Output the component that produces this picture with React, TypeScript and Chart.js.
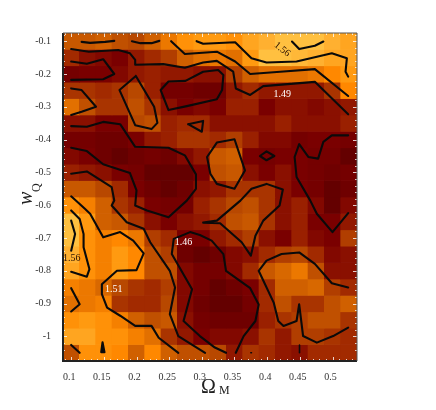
import React, { useEffect, useRef } from "react";
import { Chart, registerables } from "chart.js";

Chart.register(...registerables);

const omegaM = [0.1, 0.125, 0.15, 0.175, 0.2, 0.225, 0.25, 0.275, 0.3, 0.325, 0.35, 0.375, 0.4, 0.425, 0.45, 0.475, 0.5, 0.525];
const wQ = [-0.1, -0.15, -0.2, -0.25, -0.3, -0.35, -0.4, -0.45, -0.5, -0.55, -0.6, -0.65, -0.7, -0.75, -0.8, -0.85, -0.9, -0.95, -1, -1.05];
const xTicks = [0.1, 0.15, 0.2, 0.25, 0.3, 0.35, 0.4, 0.45, 0.5];
const yTicks = [-0.1, -0.2, -0.3, -0.4, -0.5, -0.6, -0.7, -0.8, -0.9, -1];

const chi = [
  [1.51, 1.51, 1.515, 1.505, 1.5, 1.515, 1.53, 1.55, 1.56, 1.56, 1.55, 1.57, 1.58, 1.6, 1.6, 1.6, 1.58, 1.57],
  [1.485, 1.47, 1.465, 1.46, 1.475, 1.485, 1.495, 1.515, 1.525, 1.53, 1.525, 1.56, 1.6, 1.6, 1.59, 1.58, 1.57, 1.57],
  [1.455, 1.46, 1.46, 1.465, 1.475, 1.48, 1.475, 1.475, 1.47, 1.47, 1.495, 1.515, 1.525, 1.525, 1.525, 1.53, 1.54, 1.56],
  [1.49, 1.49, 1.485, 1.49, 1.5, 1.48, 1.455, 1.455, 1.45, 1.45, 1.475, 1.485, 1.475, 1.475, 1.475, 1.475, 1.49, 1.54],
  [1.525, 1.505, 1.49, 1.49, 1.505, 1.49, 1.47, 1.46, 1.465, 1.46, 1.48, 1.48, 1.46, 1.47, 1.47, 1.465, 1.47, 1.475],
  [1.47, 1.47, 1.46, 1.46, 1.5, 1.505, 1.48, 1.485, 1.485, 1.47, 1.47, 1.47, 1.47, 1.48, 1.47, 1.47, 1.47, 1.48],
  [1.455, 1.455, 1.45, 1.45, 1.46, 1.475, 1.48, 1.49, 1.49, 1.485, 1.495, 1.48, 1.465, 1.465, 1.455, 1.46, 1.46, 1.455],
  [1.465, 1.46, 1.45, 1.44, 1.45, 1.455, 1.45, 1.465, 1.475, 1.51, 1.515, 1.46, 1.455, 1.46, 1.46, 1.455, 1.455, 1.44],
  [1.48, 1.475, 1.47, 1.46, 1.455, 1.44, 1.44, 1.44, 1.46, 1.505, 1.51, 1.47, 1.46, 1.47, 1.46, 1.455, 1.45, 1.455],
  [1.51, 1.51, 1.5, 1.485, 1.46, 1.45, 1.44, 1.45, 1.47, 1.475, 1.49, 1.49, 1.49, 1.47, 1.46, 1.455, 1.44, 1.45],
  [1.55, 1.535, 1.515, 1.49, 1.48, 1.46, 1.455, 1.455, 1.48, 1.49, 1.5, 1.505, 1.49, 1.47, 1.48, 1.465, 1.44, 1.465],
  [1.6, 1.56, 1.515, 1.51, 1.49, 1.47, 1.46, 1.47, 1.475, 1.485, 1.505, 1.51, 1.49, 1.47, 1.48, 1.46, 1.46, 1.475],
  [1.6, 1.55, 1.535, 1.54, 1.53, 1.495, 1.485, 1.46, 1.46, 1.475, 1.485, 1.495, 1.47, 1.46, 1.48, 1.465, 1.46, 1.495],
  [1.58, 1.55, 1.535, 1.56, 1.54, 1.505, 1.495, 1.45, 1.44, 1.45, 1.465, 1.47, 1.485, 1.495, 1.5, 1.485, 1.465, 1.47],
  [1.57, 1.55, 1.535, 1.56, 1.54, 1.505, 1.505, 1.465, 1.455, 1.455, 1.465, 1.485, 1.51, 1.52, 1.53, 1.505, 1.47, 1.47],
  [1.535, 1.53, 1.52, 1.5, 1.49, 1.485, 1.495, 1.465, 1.455, 1.44, 1.45, 1.46, 1.485, 1.515, 1.515, 1.52, 1.495, 1.485],
  [1.525, 1.53, 1.535, 1.49, 1.485, 1.485, 1.5, 1.465, 1.45, 1.44, 1.44, 1.455, 1.485, 1.505, 1.49, 1.49, 1.505, 1.515],
  [1.55, 1.56, 1.55, 1.535, 1.515, 1.505, 1.51, 1.47, 1.455, 1.45, 1.45, 1.45, 1.48, 1.49, 1.495, 1.505, 1.505, 1.49],
  [1.57, 1.57, 1.55, 1.55, 1.535, 1.525, 1.49, 1.475, 1.46, 1.465, 1.465, 1.47, 1.49, 1.475, 1.495, 1.495, 1.49, 1.485],
  [1.505, 1.55, 1.55, 1.54, 1.515, 1.54, 1.515, 1.505, 1.505, 1.5, 1.475, 1.49, 1.485, 1.475, 1.47, 1.485, 1.485, 1.485],
];

const ramp: [number, number, number, number][] = [
  [1.44, 100, 0, 0], [1.46, 122, 0, 0], [1.47, 138, 16, 0], [1.48, 154, 32, 0], [1.5, 184, 72, 0],
  [1.52, 216, 104, 0], [1.54, 255, 136, 0], [1.56, 255, 154, 16], [1.58, 255, 176, 48], [1.6, 255, 192, 64],
];

type Pt = [number, number];
const contours: Pt[][] = [
  [[0.116, -0.102], [0.129, -0.105], [0.152, -0.102], [0.166, -0.099]],
  [[0.193, -0.1], [0.206, -0.106], [0.223, -0.106], [0.235, -0.099]],
  [[0.253, -0.1], [0.274, -0.139], [0.323, -0.132], [0.351, -0.162], [0.374, -0.2], [0.42, -0.193], [0.473, -0.185], [0.524, -0.267]],
  [[0.292, -0.1], [0.302, -0.108], [0.351, -0.103], [0.376, -0.152], [0.399, -0.165], [0.445, -0.162], [0.499, -0.137], [0.522, -0.152], [0.52, -0.193], [0.524, -0.208]],
  [[0.438, -0.101], [0.449, -0.124], [0.473, -0.114], [0.486, -0.101]],
  [[0.1, -0.124], [0.127, -0.132], [0.172, -0.127], [0.19, -0.137], [0.198, -0.157], [0.198, -0.172], [0.241, -0.17], [0.274, -0.181], [0.302, -0.165], [0.323, -0.16], [0.348, -0.193], [0.352, -0.244], [0.374, -0.264], [0.394, -0.237], [0.473, -0.224], [0.524, -0.323]],
  [[0.1, -0.162], [0.124, -0.169], [0.149, -0.155], [0.166, -0.2], [0.149, -0.216], [0.1, -0.218]],
  [[0.1, -0.244], [0.116, -0.249], [0.138, -0.3], [0.116, -0.315], [0.1, -0.325]],
  [[0.199, -0.206], [0.174, -0.249], [0.198, -0.356], [0.223, -0.368], [0.232, -0.349], [0.227, -0.3], [0.199, -0.206]],
  [[0.237, -0.249], [0.249, -0.223], [0.275, -0.221], [0.302, -0.193], [0.325, -0.188], [0.333, -0.203], [0.331, -0.249], [0.323, -0.277], [0.277, -0.298], [0.249, -0.31], [0.237, -0.249]],
  [[0.279, -0.353], [0.302, -0.343], [0.3, -0.376], [0.279, -0.353]],
  [[0.1, -0.359], [0.124, -0.361], [0.149, -0.346], [0.175, -0.353], [0.198, -0.422], [0.249, -0.425], [0.274, -0.448], [0.291, -0.506], [0.291, -0.55], [0.277, -0.586], [0.249, -0.637], [0.216, -0.616], [0.198, -0.601], [0.2, -0.555], [0.19, -0.502], [0.149, -0.475], [0.124, -0.435], [0.1, -0.425]],
  [[0.1, -0.504], [0.124, -0.497], [0.162, -0.545], [0.166, -0.586], [0.162, -0.601], [0.185, -0.652], [0.211, -0.672], [0.221, -0.713], [0.251, -0.8], [0.259, -0.851], [0.251, -0.932], [0.264, -0.999], [0.305, -1.05]],
  [[0.1, -0.573], [0.121, -0.611], [0.129, -0.626], [0.149, -0.698], [0.175, -0.682], [0.195, -0.708], [0.211, -0.747], [0.2, -0.798], [0.17, -0.8], [0.147, -0.841], [0.147, -0.871], [0.155, -0.912], [0.175, -0.937], [0.198, -0.968], [0.223, -0.968], [0.234, -1.004], [0.264, -1.05]],
  [[0.1, -0.616], [0.113, -0.642], [0.119, -0.688], [0.119, -0.728], [0.128, -0.795], [0.124, -0.818], [0.1, -0.803]],
  [[0.1, -0.647], [0.106, -0.688], [0.1, -0.739]],
  [[0.1, -0.853], [0.113, -0.902], [0.1, -0.924]],
  [[0.1, -1.026], [0.113, -1.05]],
  [[0.148, -1.018], [0.146, -1.048], [0.151, -1.048], [0.148, -1.018]],
  [[0.352, -1.05], [0.364, -0.999], [0.382, -0.953], [0.387, -0.903], [0.374, -0.853], [0.337, -0.8], [0.333, -0.749], [0.315, -0.708], [0.297, -0.691], [0.282, -0.682], [0.257, -0.703], [0.254, -0.749], [0.285, -0.856], [0.272, -0.953], [0.297, -0.999], [0.32, -1.034], [0.337, -1.05]],
  [[0.302, -0.653], [0.323, -0.647], [0.359, -0.586], [0.376, -0.55], [0.399, -0.535], [0.424, -0.552], [0.419, -0.601], [0.394, -0.647], [0.382, -0.693], [0.375, -0.754], [0.361, -0.713], [0.328, -0.655], [0.302, -0.653]],
  [[0.524, -0.851], [0.499, -0.838], [0.473, -0.779], [0.449, -0.744], [0.422, -0.749], [0.399, -0.769], [0.387, -0.8], [0.41, -0.897], [0.417, -0.953], [0.425, -0.968], [0.445, -0.953], [0.449, -0.902], [0.455, -0.999], [0.476, -1.019], [0.501, -0.999], [0.524, -0.973]],
  [[0.524, -0.387], [0.499, -0.387], [0.486, -0.407], [0.478, -0.458], [0.463, -0.453], [0.449, -0.414], [0.442, -0.453], [0.445, -0.514], [0.466, -0.586], [0.476, -0.626], [0.5, -0.682], [0.524, -0.624]],
  [[0.308, -0.453], [0.323, -0.409], [0.35, -0.399], [0.366, -0.494], [0.35, -0.55], [0.323, -0.535], [0.313, -0.504], [0.308, -0.453]],
  [[0.389, -0.45], [0.399, -0.436], [0.411, -0.45], [0.399, -0.463], [0.389, -0.45]],
  [[0.4495, -1.026], [0.4495, -1.05]],
  [[0.375, -1.05], [0.376, -1.05]],
];
const filledContours = [18];
const thinContours = [25, 26];

const contourLabels: { text: string; x: number; y: number; angle: number; color: string }[] = [
  { text: "1.56", x: 0.423, y: -0.125, angle: 38, color: "#2a1000" },
  { text: "1.49", x: 0.423, y: -0.262, angle: 0, color: "#ffffff" },
  { text: "1.46", x: 0.272, y: -0.712, angle: 0, color: "#ffffff" },
  { text: "1.51", x: 0.165, y: -0.857, angle: 0, color: "#ffffff" },
  { text: "1.56", x: 0.101, y: -0.762, angle: 0, color: "#2a1000" },
];

const cellH = 0.05;

function colorFor(v: number) {
  for (let i = 1; i < ramp.length; i++) {
    if (v <= ramp[i][0]) {
      const a = ramp[i - 1];
      const b = ramp[i];
      const t = Math.max(0, (v - a[0]) / (b[0] - a[0]));
      const c = [1, 2, 3].map((k) => Math.round(a[k] + (b[k] - a[k]) * t));
      return `rgb(${c[0]},${c[1]},${c[2]})`;
    }
  }
  const l = ramp[ramp.length - 1];
  return `rgb(${l[1]},${l[2]},${l[3]})`;
}

const decorate = {
  id: "decorate",
  afterDatasetsDraw(chart: any) {
    const { ctx, scales, chartArea: a } = chart;
    const sx = scales.x;
    const sy = scales.y;
    ctx.save();
    ctx.strokeStyle = "rgba(255,255,255,0.8)";
    ctx.lineWidth = 1;
    const hTick = (v: number, len: number) => {
      const p = Math.round(sx.getPixelForValue(v)) + 0.5;
      ctx.beginPath();
      ctx.moveTo(p, a.top);
      ctx.lineTo(p, a.top + len);
      ctx.moveTo(p, a.bottom);
      ctx.lineTo(p, a.bottom - len);
      ctx.stroke();
    };
    const vTick = (v: number, len: number) => {
      const p = Math.round(sy.getPixelForValue(v)) + 0.5;
      ctx.beginPath();
      ctx.moveTo(a.left, p);
      ctx.lineTo(a.left + len, p);
      ctx.moveTo(a.right, p);
      ctx.lineTo(a.right - len, p);
      ctx.stroke();
    };
    for (let i = 0; i <= 44; i++) {
      const v = 0.09 + i * 0.01;
      hTick(v, Math.round(v * 100) % 5 === 0 ? 4 : 2);
    }
    for (let i = 0; i <= 48; i++) {
      const v = -0.08 - i * 0.02;
      vTick(v, Math.round(v * 100) % 10 === 0 ? 4 : 2);
    }
    ctx.strokeStyle = "#222";
    ctx.lineWidth = 2;
    ctx.beginPath();
    ctx.moveTo(a.left, a.top);
    ctx.lineTo(a.left, a.bottom);
    ctx.lineTo(a.right, a.bottom);
    ctx.stroke();
    ctx.strokeStyle = "#555";
    ctx.lineWidth = 1;
    ctx.beginPath();
    ctx.moveTo(a.left, a.top);
    ctx.lineTo(a.right, a.top);
    ctx.lineTo(a.right, a.bottom);
    ctx.stroke();
    ctx.textAlign = "center";
    ctx.textBaseline = "middle";
    ctx.font = "10px 'Liberation Serif'";
    for (const l of contourLabels) {
      ctx.save();
      ctx.translate(sx.getPixelForValue(l.x), sy.getPixelForValue(l.y));
      ctx.rotate((l.angle * Math.PI) / 180);
      ctx.fillStyle = l.color;
      ctx.fillText(l.text, 0, 0);
      ctx.restore();
    }
    ctx.fillStyle = "#222";
    ctx.textAlign = "left";
    ctx.font = "20px 'Liberation Serif'";
    ctx.fillText("\u03A9", 201, 388);
    ctx.font = "12px 'Liberation Serif'";
    ctx.fillText("M", 219, 391);
    ctx.save();
    ctx.translate(27, 205);
    ctx.rotate(-Math.PI / 2);
    ctx.font = "italic 20px 'Liberation Serif'";
    ctx.fillText("w", 0, 0);
    ctx.font = "12px 'Liberation Serif'";
    ctx.fillText("Q", 13, 10);
    ctx.restore();
    ctx.restore();
  },
};

export default function App() {
  const ref = useRef<HTMLCanvasElement>(null);
  useEffect(() => {
    document.body.style.margin = "0";
    const heatSets = chi.map((row, r) => ({
      type: "bar" as const,
      data: row.map((_, c) => ({
        x: omegaM[c],
        y: [wQ[r] - cellH / 2 - 0.001, wQ[r] + cellH / 2 + 0.001],
      })),
      backgroundColor: row.map(colorFor),
      borderWidth: 0,
      barPercentage: 1.04,
      categoryPercentage: 1,
      grouped: false,
      order: 2,
    }));
    const lineSets = contours.map((c, i) => ({
      type: "scatter" as const,
      data: c.map(([x, y]) => ({ x, y })),
      showLine: true,
      fill: filledContours.includes(i) ? "shape" : false,
      borderColor: "#0a0a0a",
      backgroundColor: "#0a0a0a",
      borderWidth: thinContours.includes(i) ? 1.6 : 2.1,
      borderJoinStyle: "round" as const,
      borderCapStyle: "round" as const,
      pointRadius: 0,
      order: 1,
    }));
    const chart = new Chart(ref.current!, {
      type: "bar",
      data: { datasets: [...heatSets, ...lineSets] as any },
      options: {
        responsive: false,
        animation: false,
        layout: { padding: { top: 33, right: 79, left: 0, bottom: 0 } },
        plugins: { legend: { display: false }, tooltip: { enabled: false } },
        scales: {
          x: {
            type: "linear",
            offset: false,
            min: 0.0875,
            max: 0.5375,
            grid: { display: false },
            border: { display: false },
            afterFit: (s: any) => { s.height = 49; },
            afterBuildTicks: (s: any) => { s.ticks = xTicks.map((value) => ({ value })); },
            ticks: {
              maxRotation: 0,
              autoSkip: false,
              padding: 2,
              labelOffset: -2,
              color: "#333",
              font: { family: "'Liberation Serif'", size: 10 },
              callback: (v: any) => String(+Number(v).toFixed(2)),
            },
          },
          y: {
            type: "linear",
            min: -1.075,
            max: -0.075,
            grid: { display: false },
            border: { display: false },
            afterFit: (s: any) => { s.width = 63; },
            afterBuildTicks: (s: any) => { s.ticks = yTicks.map((value) => ({ value })); },
            ticks: {
              autoSkip: false,
              padding: 4,
              color: "#333",
              font: { family: "'Liberation Serif'", size: 10 },
              callback: (v: any) => String(+Number(v).toFixed(1)),
            },
          },
        },
      } as any,
      plugins: [decorate],
    });
    return () => chart.destroy();
  }, []);
  return <canvas ref={ref} width={436} height={410} style={{ display: "block", filter: "blur(0.4px)" }} />;
}
